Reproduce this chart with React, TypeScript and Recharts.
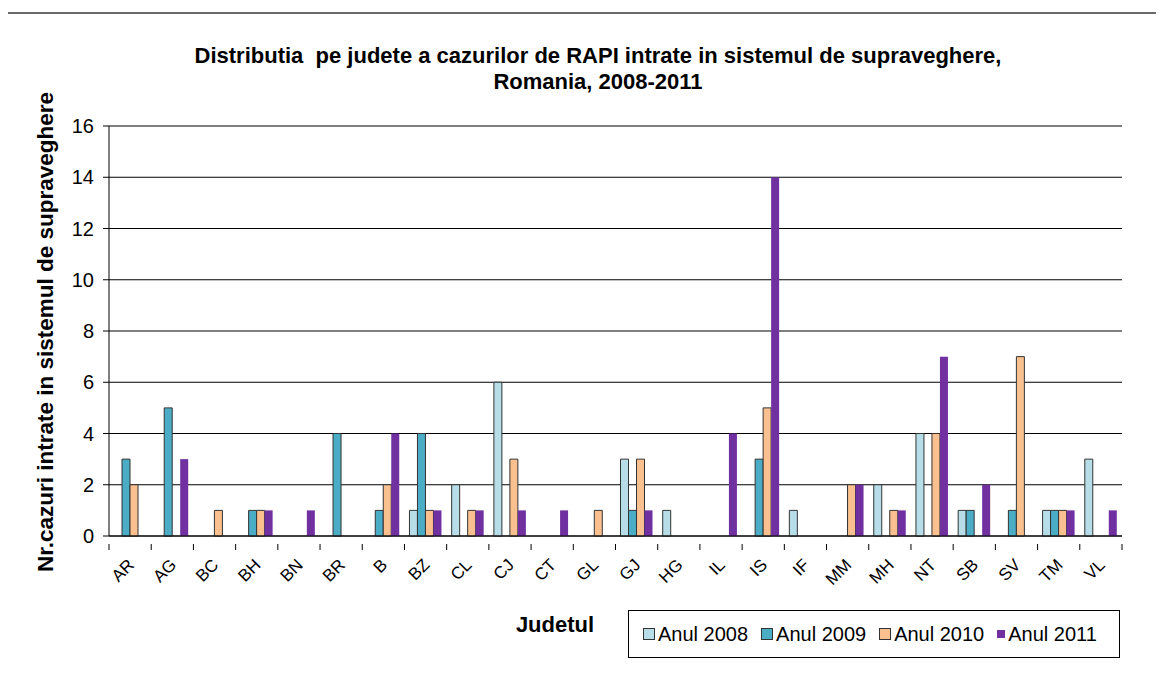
import { BarChart, Bar, XAxis, YAxis, CartesianGrid, Legend } from 'recharts';

const judete = ['AR', 'AG', 'BC', 'BH', 'BN', 'BR', 'B', 'BZ', 'CL', 'CJ', 'CT', 'GL', 'GJ', 'HG', 'IL', 'IS', 'IF', 'MM', 'MH', 'NT', 'SB', 'SV', 'TM', 'VL'];
const anul2008 = [0, 0, 0, 0, 0, 0, 0, 1, 2, 6, 0, 0, 3, 1, 0, 0, 1, 0, 2, 4, 1, 0, 1, 3];
const anul2009 = [3, 5, 0, 1, 0, 4, 1, 4, 0, 0, 0, 0, 1, 0, 0, 3, 0, 0, 0, 0, 1, 1, 1, 0];
const anul2010 = [2, 0, 1, 1, 0, 0, 2, 1, 1, 3, 0, 1, 3, 0, 0, 5, 0, 2, 1, 4, 0, 7, 1, 0];
const anul2011 = [0, 3, 0, 1, 1, 0, 4, 1, 1, 1, 1, 0, 1, 0, 4, 14, 0, 2, 1, 7, 2, 0, 1, 1];
const yTicks = [0, 2, 4, 6, 8, 10, 12, 14, 16];

const FONT = '"Liberation Sans", Arial, sans-serif';
const W = 1164;
const H = 674;
const MARGIN = { top: 126, right: 42, left: 49, bottom: 78 };
const Y_AXIS_W = 60;
const BAND = (W - MARGIN.left - MARGIN.right - Y_AXIS_W) / judete.length;

const series = [
  { key: 'a2008', name: 'Anul 2008', fill: '#B7DEE8', stroke: '#333333' },
  { key: 'a2009', name: 'Anul 2009', fill: '#4BACC6', stroke: '#333333' },
  { key: 'a2010', name: 'Anul 2010', fill: '#FAC090', stroke: '#333333' },
  { key: 'a2011', name: 'Anul 2011', fill: '#7030A0', stroke: 'none' },
];

// zero means no bar at all, so keep it out of the drawn data
const nz = (v: number) => (v === 0 ? null : v);

const data = judete.map((j, i) => ({
  judet: j,
  a2008: nz(anul2008[i]),
  a2009: nz(anul2009[i]),
  a2010: nz(anul2010[i]),
  a2011: nz(anul2011[i]),
}));

function JudetTick(props: any) {
  const { x, y, payload, index } = props;
  const left = x - BAND / 2;
  return (
    <g>
      <line x1={left} y1={y} x2={left} y2={y + 6} stroke="#000" />
      {index === judete.length - 1 && (
        <line x1={x + BAND / 2} y1={y} x2={x + BAND / 2} y2={y + 6} stroke="#000" />
      )}
      <text
        x={x + 5}
        y={y + 22}
        textAnchor="end"
        fontSize={17}
        fontFamily={FONT}
        fill="#000"
        transform={`rotate(-45, ${x + 5}, ${y + 22})`}
      >
        {payload.value}
      </text>
    </g>
  );
}

function LegendBox() {
  return (
    <div
      style={{
        border: '1px solid #000',
        height: 48,
        boxSizing: 'border-box',
        display: 'flex',
        alignItems: 'center',
        paddingLeft: 14,
        fontFamily: FONT,
        fontSize: 20,
        color: '#000',
      }}
    >
      {series.map((s) => (
        <div key={s.key} style={{ display: 'flex', alignItems: 'center', marginRight: 13 }}>
          <span
            style={{
              display: 'inline-block',
              width: s.stroke === 'none' ? 8 : 10,
              height: s.stroke === 'none' ? 8 : 10,
              background: s.fill,
              border: s.stroke === 'none' ? 'none' : '1px solid #333',
              marginRight: 3,
            }}
          />
          <span>{s.name}</span>
        </div>
      ))}
    </div>
  );
}

export default function App() {
  return (
    <div style={{ position: 'relative', width: W, height: H, overflow: 'hidden', margin: -8, background: '#fff' }}>
      <div
        style={{
          position: 'absolute',
          left: 6,
          top: 12,
          width: W + 20,
          height: H + 20,
          borderLeft: '2px solid #8a8a8a',
          borderTop: '2px solid #6a6a6a',
        }}
      />
      <div
        style={{
          position: 'absolute',
          left: 0,
          width: 1196,
          top: 43,
          textAlign: 'center',
          fontFamily: FONT,
          fontWeight: 'bold',
          fontSize: 22,
          lineHeight: '26px',
          color: '#000',
        }}
      >
        Distributia&nbsp; pe judete a cazurilor de RAPI intrate in sistemul de supraveghere,
        <br />
        Romania, 2008-2011
      </div>
      <div
        style={{
          position: 'absolute',
          left: 46,
          top: 332,
          transform: 'translate(-50%, -50%) rotate(-90deg)',
          whiteSpace: 'nowrap',
          fontFamily: FONT,
          fontWeight: 'bold',
          fontSize: 22.5,
          color: '#000',
        }}
      >
        Nr.cazuri intrate in sistemul de supraveghere
      </div>
      <div
        style={{
          position: 'absolute',
          left: 555,
          top: 625,
          transform: 'translate(-50%, -50%)',
          fontFamily: FONT,
          fontWeight: 'bold',
          fontSize: 22,
          color: '#000',
        }}
      >
        Judetul
      </div>
      <div style={{ position: 'absolute', left: 0, top: 0 }}>
        <BarChart width={W} height={H} data={data} margin={MARGIN} barSize={8} barGap={0}>
          <CartesianGrid vertical={false} stroke="#000" strokeWidth={1} />
          <XAxis
            dataKey="judet"
            interval={0}
            height={60}
            axisLine={{ stroke: '#000' }}
            tickLine={false}
            tick={<JudetTick />}
          />
          <YAxis
            width={Y_AXIS_W}
            domain={[0, 16]}
            ticks={yTicks}
            interval={0}
            tickSize={6}
            tickMargin={9}
            axisLine={{ stroke: '#000' }}
            tickLine={{ stroke: '#000' }}
            tick={{ fill: '#000', fontSize: 20, fontFamily: FONT }}
          />
          <YAxis
            yAxisId="right"
            orientation="right"
            width={0}
            domain={[0, 16]}
            tick={false}
            tickLine={false}
            axisLine={{ stroke: '#000' }}
          />
          {series.map((s) => (
            <Bar
              key={s.key}
              dataKey={s.key}
              name={s.name}
              fill={s.fill}
              stroke={s.stroke}
              strokeWidth={1}
              isAnimationActive={false}
            />
          ))}
          <Legend
            layout="horizontal"
            verticalAlign="middle"
            align="center"
            content={() => <LegendBox />}
            wrapperStyle={{ left: 628, top: 610, width: 492, height: 48 }}
          />
        </BarChart>
      </div>
    </div>
  );
}
